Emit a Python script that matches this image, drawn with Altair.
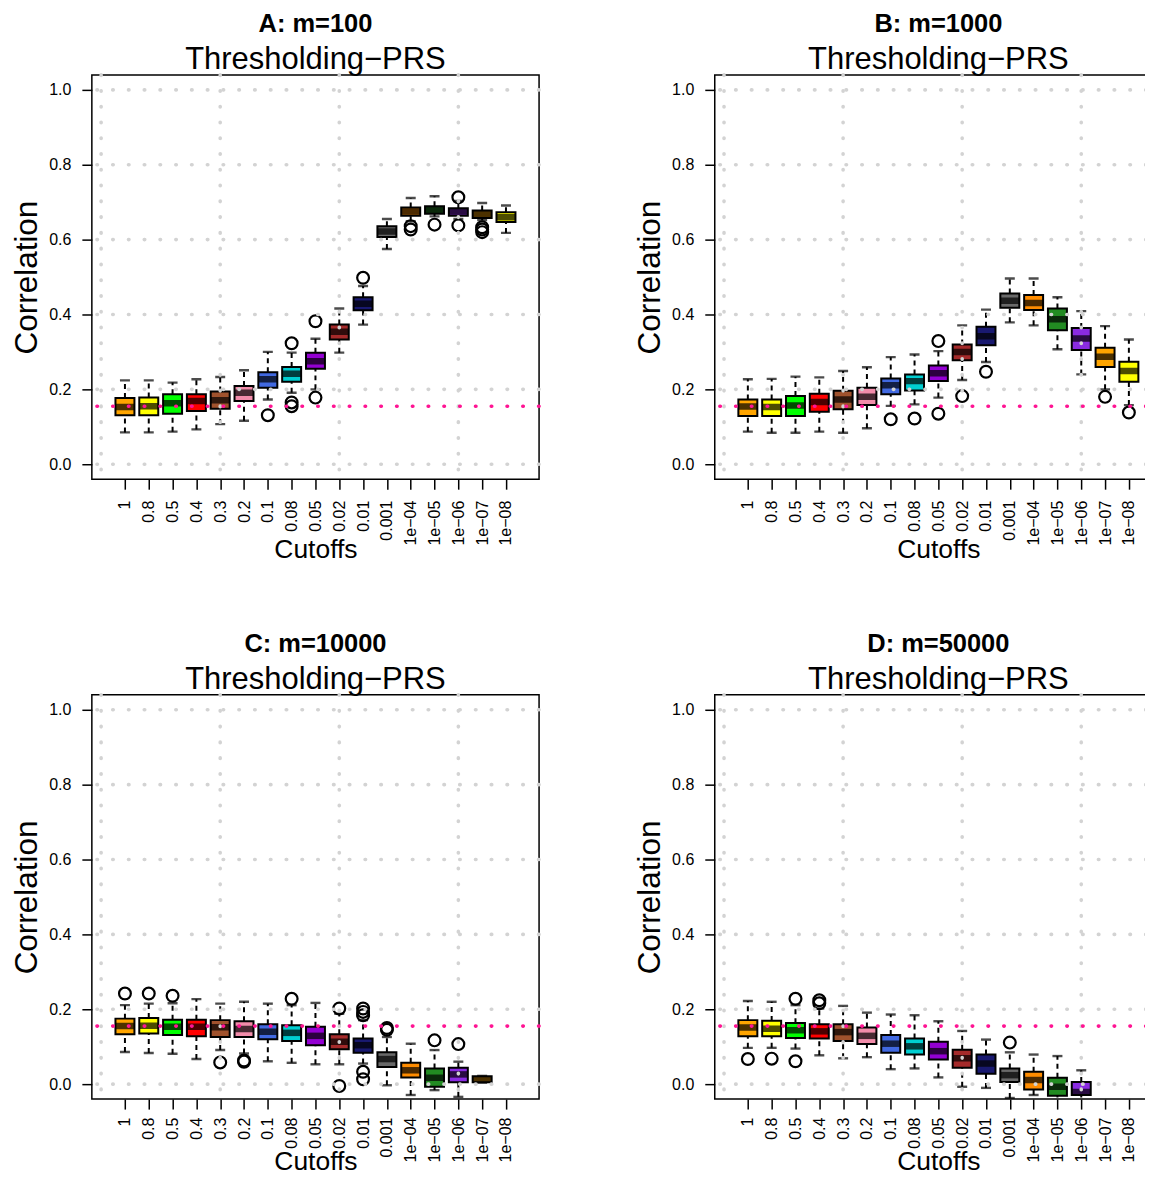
import altair as alt
import pandas as pd

# ---------------- data ----------------
CUTOFFS = ["1", "0.8", "0.5", "0.4", "0.3", "0.2", "0.1", "0.08", "0.05", "0.02",
           "0.01", "0.001", "1e\u221204", "1e\u221205", "1e\u221206", "1e\u221207", "1e\u221208"]
CATS = list(range(1, 18))
BOX_COLORS = ["#FFA500", "#FFFF00", "#00FF00", "#FF0000", "#A0522D", "#F28CAA", "#4169E1",
              "#00CED1", "#9400D3", "#A52A2A", "#191970", "#696969", "#FF8C00", "#228B22",
              "#8A2BE2", "#FFA500", "#FFFF00"]
Y_TICKS = [0.0, 0.2, 0.4, 0.6, 0.8, 1.0]
X_GRID = [0, 5, 10, 15]
REF_LINE = [0.155]
PANEL_TITLES = ["A: m=100", "B: m=1000", "C: m=10000", "D: m=50000"]
SUBTITLE = "Thresholding\u2212PRS"

# Panel A: m=100
A_WLO = [0.085, 0.085, 0.087, 0.093, 0.107, 0.116, 0.173, 0.191, 0.200, 0.298, 0.373, 0.575, 0.649, 0.662, 0.655, 0.652, 0.618]
A_Q1 = [0.131, 0.131, 0.135, 0.142, 0.148, 0.169, 0.204, 0.220, 0.255, 0.333, 0.411, 0.607, 0.664, 0.669, 0.664, 0.658, 0.647]
A_MED = [0.153, 0.155, 0.163, 0.169, 0.171, 0.191, 0.227, 0.242, 0.275, 0.354, 0.429, 0.622, 0.675, 0.679, 0.675, 0.668, 0.660]
A_Q3 = [0.177, 0.178, 0.187, 0.187, 0.194, 0.209, 0.246, 0.260, 0.298, 0.373, 0.446, 0.636, 0.686, 0.689, 0.684, 0.678, 0.673]
A_WHI = [0.224, 0.224, 0.218, 0.227, 0.233, 0.251, 0.300, 0.298, 0.335, 0.416, 0.476, 0.655, 0.711, 0.716, 0.703, 0.698, 0.691]
A_OUT_CAT = [7, 8, 8, 8, 9, 9, 11, 13, 13, 14, 15, 15, 16, 16, 16]
A_OUT_VAL = [0.131, 0.323, 0.165, 0.155, 0.382, 0.178, 0.498, 0.636, 0.627, 0.640, 0.713, 0.638, 0.633, 0.627, 0.620]

# Panel B: m=1000
B_WLO = [0.087, 0.084, 0.084, 0.087, 0.084, 0.096, 0.156, 0.160, 0.178, 0.225, 0.273, 0.379, 0.371, 0.307, 0.240, 0.200, 0.158]
B_Q1 = [0.129, 0.129, 0.129, 0.140, 0.147, 0.158, 0.187, 0.197, 0.222, 0.278, 0.318, 0.418, 0.412, 0.358, 0.305, 0.260, 0.220]
B_MED = [0.154, 0.153, 0.157, 0.166, 0.173, 0.180, 0.211, 0.222, 0.243, 0.300, 0.342, 0.437, 0.431, 0.387, 0.336, 0.287, 0.249]
B_Q3 = [0.173, 0.173, 0.182, 0.188, 0.196, 0.204, 0.229, 0.240, 0.264, 0.320, 0.367, 0.456, 0.452, 0.416, 0.364, 0.311, 0.274]
B_WHI = [0.227, 0.228, 0.234, 0.232, 0.249, 0.259, 0.286, 0.293, 0.302, 0.371, 0.413, 0.496, 0.496, 0.446, 0.409, 0.369, 0.333]
B_OUT_CAT = [7, 8, 9, 9, 10, 11, 16, 17]
B_OUT_VAL = [0.120, 0.122, 0.329, 0.135, 0.182, 0.247, 0.180, 0.138]

# Panel C: m=10000
C_WLO = [0.086, 0.083, 0.081, 0.067, 0.091, 0.082, 0.061, 0.057, 0.053, 0.053, 0.055, -0.003, -0.029, -0.016, -0.034, 0.004, None]
C_Q1 = [0.133, 0.135, 0.131, 0.128, 0.126, 0.126, 0.120, 0.115, 0.104, 0.093, 0.084, 0.046, 0.018, -0.007, 0.005, 0.005, None]
C_MED = [0.155, 0.156, 0.153, 0.153, 0.152, 0.147, 0.140, 0.137, 0.129, 0.113, 0.104, 0.067, 0.037, 0.017, 0.026, 0.013, None]
C_Q3 = [0.175, 0.177, 0.172, 0.172, 0.171, 0.168, 0.160, 0.157, 0.153, 0.133, 0.122, 0.085, 0.057, 0.042, 0.044, 0.021, None]
C_WHI = [0.211, 0.215, 0.216, 0.227, 0.215, 0.220, 0.215, 0.211, 0.217, 0.188, 0.171, 0.126, 0.108, 0.091, 0.060, 0.022, None]
C_OUT_CAT = [1, 2, 3, 5, 6, 6, 8, 10, 10, 11, 11, 11, 11, 11, 12, 12, 14, 15]
C_OUT_VAL = [0.242, 0.242, 0.236, 0.058, 0.060, 0.063, 0.228, 0.202, -0.005, 0.202, 0.193, 0.184, 0.033, 0.013, 0.150, 0.145, 0.117, 0.107]

# Panel D: m=50000
D_WLO = [0.097, 0.097, 0.095, 0.077, 0.069, 0.072, 0.040, 0.042, 0.018, -0.007, -0.010, -0.037, -0.029, -0.060, -0.060, None, None]
D_Q1 = [0.128, 0.128, 0.123, 0.122, 0.115, 0.107, 0.084, 0.079, 0.066, 0.044, 0.028, 0.006, -0.014, -0.031, -0.029, None, None]
D_MED = [0.151, 0.148, 0.144, 0.141, 0.139, 0.129, 0.108, 0.101, 0.088, 0.069, 0.055, 0.024, 0.011, -0.007, -0.021, None, None]
D_Q3 = [0.171, 0.169, 0.163, 0.160, 0.160, 0.151, 0.131, 0.122, 0.113, 0.092, 0.079, 0.042, 0.033, 0.017, 0.006, None, None]
D_WHI = [0.222, 0.220, 0.211, 0.202, 0.209, 0.191, 0.186, 0.184, 0.168, 0.142, 0.119, 0.085, 0.079, 0.075, 0.037, None, None]
D_OUT_CAT = [1, 2, 3, 3, 4, 4, 12]
D_OUT_VAL = [0.067, 0.068, 0.228, 0.061, 0.224, 0.216, 0.111]

# ---------------- layout / style ----------------
Y_DOMAIN = [-0.04, 1.04]
X_DOMAIN = [-0.18, 18.18]
W, H = 448, 405
FONT = "Liberation Sans"

LABEL_EXPR = "[" + ",".join("'" + c + "'" for c in CUTOFFS) + "][datum.value - 1]"


def make_panel(title, wlo, q1, med, q3, whi, out_cat, out_val, xtitle_y, label_pad):
    box = pd.DataFrame({"cat": CATS, "wlo": wlo, "q1": q1, "med": med, "q3": q3,
                        "whi": whi, "color": BOX_COLORS}).dropna()
    out = pd.DataFrame({"cat": out_cat, "val": out_val})
    hgrid = pd.DataFrame({"g": Y_TICKS})
    vgrid = pd.DataFrame({"g": X_GRID})
    ref = pd.DataFrame({"r": REF_LINE})

    xs = alt.Scale(domain=X_DOMAIN, nice=False, zero=False)
    ys = alt.Scale(domain=Y_DOMAIN, nice=False, zero=False)

    y_axis = alt.Axis(values=Y_TICKS, format=".1f", title="Correlation", grid=False, domain=False,
                      tickSize=10, tickColor="black", tickWidth=1.5, labelFontSize=16,
                      labelColor="black", labelPadding=11, titleFontSize=31.5,
                      titleFontWeight="normal", titleColor="black", titleX=-55,
                      titleBaseline="alphabetic")
    x_axis = alt.Axis(values=CATS, labelExpr=LABEL_EXPR, labelAngle=-90, title="Cutoffs",
                      grid=False, domain=False, tickSize=10, tickColor="black", tickWidth=1.5,
                      labelFontSize=16, labelColor="black", labelPadding=label_pad,
                      titleFontSize=26.5, titleFontWeight="normal", titleColor="black",
                      titleY=xtitle_y, titleBaseline="alphabetic")

    def X(field="cat:Q"):
        return alt.X(field, scale=xs, axis=x_axis, title="Cutoffs")

    def Y(field):
        return alt.Y(field, scale=ys, axis=y_axis, title="Correlation")

    base = alt.Chart(box)
    whisk_up = base.mark_rule(color="black", strokeWidth=2, strokeDash=[5, 4], clip=True).encode(
        x=X(), y=Y("q3:Q"), y2="whi:Q")
    whisk_lo = base.mark_rule(color="black", strokeWidth=2, strokeDash=[5, 4], clip=True).encode(
        x=X(), y=Y("wlo:Q"), y2="q1:Q")
    staple_hi = base.mark_tick(orient="horizontal", size=10, thickness=2.4, color="black", clip=True).encode(
        x=X(), y=Y("whi:Q"))
    staple_lo = base.mark_tick(orient="horizontal", size=10, thickness=2.4, color="black", clip=True).encode(
        x=X(), y=Y("wlo:Q"))
    boxes = base.mark_bar(size=19, stroke="black", strokeWidth=2, clip=True).encode(
        x=X(), y=Y("q1:Q"), y2="q3:Q", fill=alt.Fill("color:N", scale=None))
    medians = base.mark_tick(orient="horizontal", size=19, thickness=6.5, color="black", clip=True).encode(
        x=X(), y=Y("med:Q"))
    outliers = alt.Chart(out).mark_point(shape="circle", filled=False, size=140, strokeWidth=2.2,
                                         color="black", opacity=1, clip=True).encode(
        x=X(), y=Y("val:Q"))

    hg = alt.Chart(hgrid).mark_rule(color="#D3D3D3", strokeWidth=3.6, strokeDash=[0.5, 15.3],
                                    strokeCap="round").encode(y=Y("g:Q"))
    vg = alt.Chart(vgrid).mark_rule(color="#D3D3D3", strokeWidth=3.6, strokeDash=[0.5, 15.3],
                                    strokeCap="round").encode(x=X("g:Q"))
    pink = alt.Chart(ref).mark_rule(color="#FF1493", strokeWidth=3.6, strokeDash=[0.5, 15.3],
                                    strokeCap="round").encode(y=Y("r:Q"))

    return alt.layer(whisk_up, whisk_lo, staple_hi, staple_lo, boxes, medians, outliers,
                     hg, vg, pink).properties(
        width=W, height=H,
        title=alt.TitleParams(text=title, subtitle=SUBTITLE, fontSize=25.5, fontWeight="bold",
                              color="black", subtitleFontSize=31, subtitleColor="black",
                              subtitleFontWeight="normal", anchor="middle", frame="group",
                              offset=-2, subtitlePadding=8, font=FONT, subtitleFont=FONT))


pA = make_panel(PANEL_TITLES[0], A_WLO, A_Q1, A_MED, A_Q3, A_WHI, A_OUT_CAT, A_OUT_VAL, 78, 11)
pB = make_panel(PANEL_TITLES[1], B_WLO, B_Q1, B_MED, B_Q3, B_WHI, B_OUT_CAT, B_OUT_VAL, 78, 11)
pC = make_panel(PANEL_TITLES[2], C_WLO, C_Q1, C_MED, C_Q3, C_WHI, C_OUT_CAT, C_OUT_VAL, 71, 8)
pD = make_panel(PANEL_TITLES[3], D_WLO, D_Q1, D_MED, D_Q3, D_WHI, D_OUT_CAT, D_OUT_VAL, 71, 8)

# The right column runs past the window edge, as in the reference: a negative right
# padding lets the drawing be cut at the edge of the page.
chart = alt.concat(pA, pB, pC, pD, columns=2, spacing={"row": 216, "column": 176},
                   bounds="flush",
                   padding={"left": 3, "top": 1, "right": -20, "bottom": 0}).configure(
    font=FONT).configure_view(stroke="black", strokeWidth=1.5)

chart.save("out.html", embed_options={"renderer": "svg", "actions": False})
